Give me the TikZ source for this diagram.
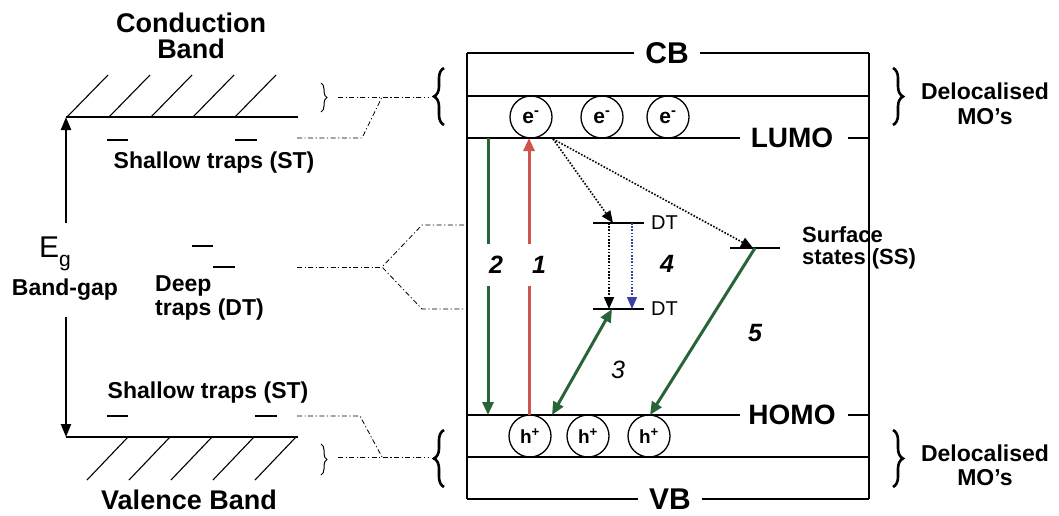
\documentclass[tikz,border=0pt]{standalone}
\usepackage{fontspec}
\setmainfont{Liberation Sans}
\usetikzlibrary{arrows.meta,decorations.pathreplacing}
\definecolor{arrgreen}{RGB}{40,100,55}
\definecolor{arrred}{RGB}{205,85,75}
\definecolor{arrblue}{RGB}{55,65,165}
\newcommand{\fsz}[1]{\fontsize{#1}{#1}\selectfont}
\tikzset{
  level/.style={line width=1.3pt},
  ddot/.style={line width=0.8pt, dash pattern=on 5pt off 2.5pt on 1.2pt off 2.5pt},
  hatch/.style={line width=1.1pt},
  trap/.style={line width=1.2pt},
  egarrow/.style={line width=2.2pt, -{Triangle[length=13pt,width=10pt]}},
  garrow/.style={arrgreen, line width=3pt, -{Triangle[length=13pt,width=11pt]}},
  gdarrow/.style={arrgreen, line width=3pt, {Triangle[length=13pt,width=11pt]}-{Triangle[length=13pt,width=11pt]}},
  rarrow/.style={arrred, line width=3pt, -{Triangle[length=13pt,width=11pt]}},
  darrow/.style={line width=1.6pt, dash pattern=on 1.6pt off 1.6pt, -{Triangle[length=12pt,width=10pt]}},
  barrow/.style={arrblue, line width=1.6pt, dash pattern=on 1.6pt off 1.6pt, -{Triangle[length=12pt,width=10pt]}},
  circ/.style={circle, draw, line width=1.3pt, minimum size=42pt, inner sep=0pt},
  bt/.style={font=\fsz{23}\bfseries, inner sep=0pt},
  bigt/.style={font=\fsz{27}\bfseries, inner sep=0pt, align=center},
  lvl/.style={font=\fsz{28}\bfseries, inner sep=0pt},
  num/.style={font=\fsz{25}\bfseries\itshape, inner sep=0pt},
  gapnum/.style={num, fill=white, minimum height=42pt, minimum width=30pt},
  smallbrace/.style={decorate, decoration={brace, amplitude=6pt}, line width=1pt},
  bigbrace/.style={decorate, decoration={brace, amplitude=10pt}, line width=2.6pt},
}
\begin{document}
\begin{tikzpicture}[x=1pt,y=-1pt]
\useasboundingbox (0,0) rectangle (1059,515);

% ---------- left band diagram ----------
\node[bigt] (condband) at (191,36) {Conduction\\[-1pt]Band};
\node[bigt] (valband) at (189,500) {Valence Band};
\draw[level] (66,117) coordinate (cbL) -- (298,117) coordinate (cbR);
\foreach \k in {0,...,4} \draw[hatch] (67+42*\k,117) -- (108+42*\k,75);
\draw[level] (66,437) coordinate (vbL) -- (298,437) coordinate (vbR);
\foreach \k in {0,...,4} \draw[hatch] (128+42*\k,437) -- (87+42*\k,480);

\draw[trap] (107,140) -- (128,140);
\draw[trap] (235,140) -- (257,140);
\draw[trap] (107,416) -- (128,416);
\draw[trap] (255,416) -- (277,416);
\draw[trap] (192,246) -- (213,246);
\draw[trap] (213,267) -- (235,267);

\node[bt] (st1) at (214,163) {Shallow traps (ST)};
\node[bt] (st2) at (208,393) {Shallow traps (ST)};
\node[bt, anchor=west, align=left] (dt) at (155,298) {Deep\\[1pt]traps (DT)};

\node[inner sep=0pt, font=\fsz{30}, anchor=base west] (eg) at (39,257) {E\raisebox{-0.33em}{\fsz{21}g}};
\node[bt] (bgap) at (65,290) {Band-gap};
\coordinate (egtop) at (66,223);
\coordinate (egbot) at (66,317);
\draw[egarrow] (egtop) -- (cbL);
\draw[egarrow] (egbot) -- (vbL);

% small braces and dash-dot connectors
\draw[smallbrace] (321,83) -- (321,112);
\draw[smallbrace] (321,444) -- (321,475);
\draw[bigbrace] (444,125) -- (444,68);
\draw[bigbrace] (444,487) -- (444,430);

\draw[ddot] (338,97) -- (428,97);
\draw[ddot] (297,138) -- (362,138) -- (382,97);
\draw[ddot] (338,457) -- (428,457);
\draw[ddot] (297,416) -- (360,416) -- (382,457);
\draw[ddot] (297,267) -- (382,267);
\draw[ddot] (464,225) -- (422,225) -- (382,267) -- (422,309) -- (464,309);

% ---------- right MO diagram ----------
\node[lvl, font=\fsz{30}\bfseries, inner xsep=11pt] (cb) at (667,53) {CB};
\node[lvl, font=\fsz{30}\bfseries, inner xsep=11pt] (vb) at (670,499) {VB};
\node[lvl] (lumo) at (792,138) {LUMO};
\node[lvl] (homo) at (792,415) {HOMO};

\draw[level] (467,53) -- (cb.west);
\draw[level] (cb.east) -- (869,53);
\draw[level] (467,499) -- (vb.west);
\draw[level] (vb.east) -- (869,499);
\draw[level] (467,53) -- (467,499);
\draw[level] (869,53) -- (869,499);
\draw[level] (467,96) -- (869,96);
\draw[level] (467,457) -- (869,457);
\draw[level] (467,138) -- (740,138);
\draw[level] (848,138) -- (869,138);
\draw[level] (467,415) -- (740,415);
\draw[level] (848,415) -- (869,415);

\node[circ] (e1) at (531,117) {};
\node[circ] (e2) at (602,117) {};
\node[circ] (e3) at (668,117) {};
\foreach \n in {e1,e2,e3} \node[font=\fsz{21}\bfseries, inner sep=0pt] at (\n) {e\textsuperscript{-}};
\node[circ] (h1) at (530,436) {};
\node[circ] (h2) at (588,436) {};
\node[circ] (h3) at (649,436) {};
\foreach \n in {h1,h2,h3} \node[font=\fsz{19}\bfseries, inner sep=0pt] at (\n) {h\textsuperscript{+}};

% trap levels
\draw[level] (593,223) coordinate (dtuL) -- (644,223);
\draw[level] (593,309) coordinate (dtlL) -- (644,309);
\node[inner sep=0pt, font=\fsz{20}, anchor=west] (dtu) at (651,223) {DT};
\node[inner sep=0pt, font=\fsz{20}, anchor=west] (dtl) at (651,309) {DT};
\draw[level] (730,248) -- (780,248);
\node[bt, font=\fsz{22}\bfseries, anchor=west, align=left] (ss) at (802,248) {Surface\\[0pt]states (SS)};

% arrows
\coordinate (lumo2) at (488,138);
\coordinate (homo2) at (488,415);
\coordinate (homo1) at (529,415);
\coordinate (lumo1) at (529,138);
\coordinate (start4) at (553,139);
\coordinate (dtuA) at (613,223);
\coordinate (ssA) at (753,248);
\coordinate (dtv1t) at (609,223);
\coordinate (dtv1b) at (609,309);
\coordinate (dtv2t) at (632,223);
\coordinate (dtv2b) at (632,309);
\coordinate (dt3) at (612,309);
\coordinate (h3a) at (552,415);
\coordinate (ss5) at (755,248);
\coordinate (h5a) at (650,415);

\draw[garrow] (lumo2) -- (homo2);
\draw[rarrow] (homo1) -- (lumo1);
\draw[darrow] (start4) -- (dtuA);
\draw[darrow] (start4) -- (ssA);
\draw[darrow] (dtv1t) -- (dtv1b);
\draw[barrow] (dtv2t) -- (dtv2b);
\draw[gdarrow] (h3a) -- (dt3);
\draw[garrow] (ss5) -- (h5a);

\node[gapnum] (n2) at (496,265) {2};
\node[gapnum] (n1) at (539,265) {1};
\node[num] (n4) at (667,264) {4};
\node[num, font=\fsz{25}\itshape] (n3) at (618,370) {3};
\node[num] (n5) at (755,333) {5};

% right braces and labels
\draw[bigbrace] (893,68) -- (893,125);
\draw[bigbrace] (893,430) -- (893,487);
\node[bt, align=center] (deloc1) at (985,104) {Delocalised\\[2pt]MO’s};
\node[bt, align=center] (deloc2) at (985,465) {Delocalised\\[1pt]MO’s};
\end{tikzpicture}
\end{document}
